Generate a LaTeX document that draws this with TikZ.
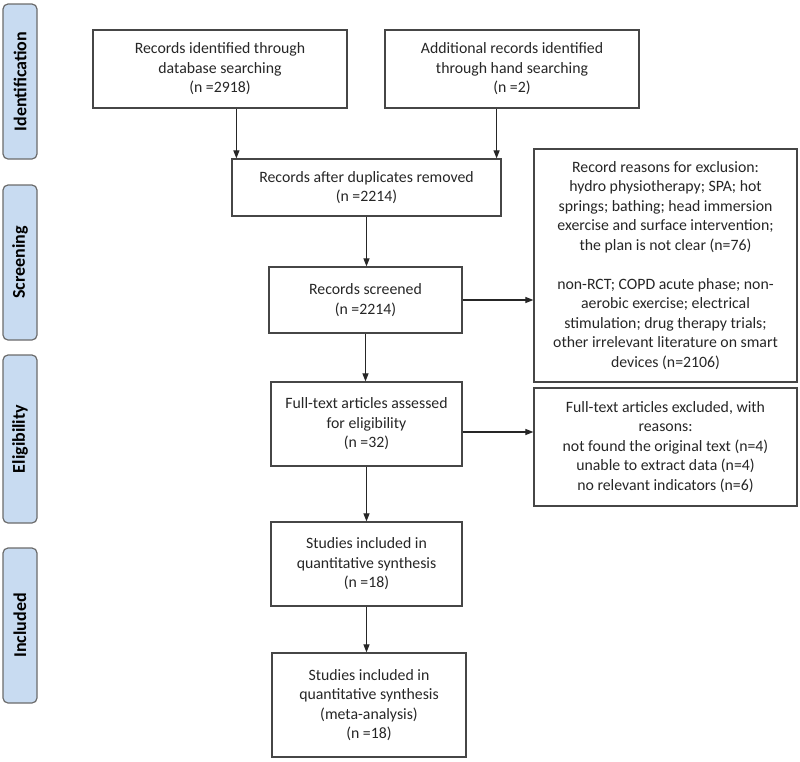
\documentclass[tikz,border=0pt]{standalone}
\usepackage{fontspec}
\setmainfont{Carlito}
\usetikzlibrary{arrows.meta}
\definecolor{barblue}{RGB}{200,219,241}
\definecolor{edgegray}{RGB}{70,70,70}
\tikzset{
  box/.style={draw=edgegray,line width=1.2pt,align=center,inner sep=0pt,
    text=black!85,font=\fontsize{15.8}{19.5}\selectfont},
  phase/.style={draw=edgegray!80,fill=barblue,line width=1.2pt,rounded corners=5pt,
    minimum width=34pt,inner sep=0pt,text=black!85},
  phasetext/.style={rotate=90,font=\fontsize{18}{20}\selectfont\bfseries},
  arr/.style={-{Triangle[length=8pt,width=6pt]},line width=1.1pt,draw=black!85}
}
\begin{document}
\begin{tikzpicture}[x=1pt,y=-1pt]
\useasboundingbox (0,0) rectangle (800,761);
% phases on the left
\node[phase,minimum height=155pt] (ident) at (20,81.5) {};
\node[phasetext] at (ident) {Identification};
\node[phase,minimum height=155pt] (scr) at (20,262.5) {};
\node[phasetext] at (scr) {Screening};
\node[phase,minimum height=168pt] (elig) at (20,439) {};
\node[phasetext] at (elig) {Eligibility};
\node[phase,minimum height=155pt] (incl) at (20,625.5) {};
\node[phasetext] at (incl) {Included};
% main column
\node[box,minimum width=254pt,minimum height=78pt] (db) at (220,69) {Records identified through\\database searching\\(n =2918)};
\node[box,minimum width=254pt,minimum height=78pt] (hand) at (512,69) {Additional records identified\\through hand searching\\(n =2)};
\node[box,minimum width=269pt,minimum height=57pt] (dup) at (366.5,187.5) {Records after duplicates removed\\(n =2214)};
\node[box,minimum width=193pt,minimum height=66pt] (screened) at (365.5,300) {Records screened\\(n =2214)};
\node[box,minimum width=191pt,minimum height=84pt] (full) at (366.5,424) {Full-text articles assessed\\for eligibility\\(n =32)};
\node[box,minimum width=191pt,minimum height=84pt] (studies) at (366.5,564) {Studies included in\\quantitative synthesis\\(n =18)};
\node[box,minimum width=194pt,minimum height=104pt] (meta) at (369,705) {Studies included in\\quantitative synthesis\\(meta-analysis)\\(n =18)};
% exclusions
\node[box,minimum width=263pt,minimum height=233pt] (excl) at (665.5,265.5) {Record reasons for exclusion:\\hydro physiotherapy; SPA; hot\\springs; bathing; head immersion\\exercise and surface intervention;\\the plan is not clear (n=76)\\[19.5pt]non-RCT; COPD acute phase; non-\\aerobic exercise; electrical\\stimulation; drug therapy trials;\\other irrelevant literature on smart\\devices (n=2106)};
\node[box,minimum width=263pt,minimum height=118pt] (exclft) at (665.5,447) {Full-text articles excluded, with\\reasons:\\not found the original text (n=4)\\unable to extract data (n=4)\\no relevant indicators (n=6)};
% connectors
\draw[arr] ([xshift=5pt]dup.north west |- db.south) -- ([xshift=5pt]dup.north west);
\draw[arr] ([xshift=-5pt]dup.north east |- hand.south) -- ([xshift=-5pt]dup.north east);
\draw[arr] (dup.south) -- (dup.south |- screened.north);
\draw[arr] (screened.east) -- (screened.east -| excl.west);
\draw[arr] (screened.south) -- (screened.south |- full.north);
\draw[arr] ([yshift=-8pt]full.east) -- ([yshift=-8pt]full.east -| exclft.west);
\draw[arr] (full.south) -- (full.south |- studies.north);
\draw[arr] (studies.south) -- (studies.south |- meta.north);
\end{tikzpicture}
\end{document}
